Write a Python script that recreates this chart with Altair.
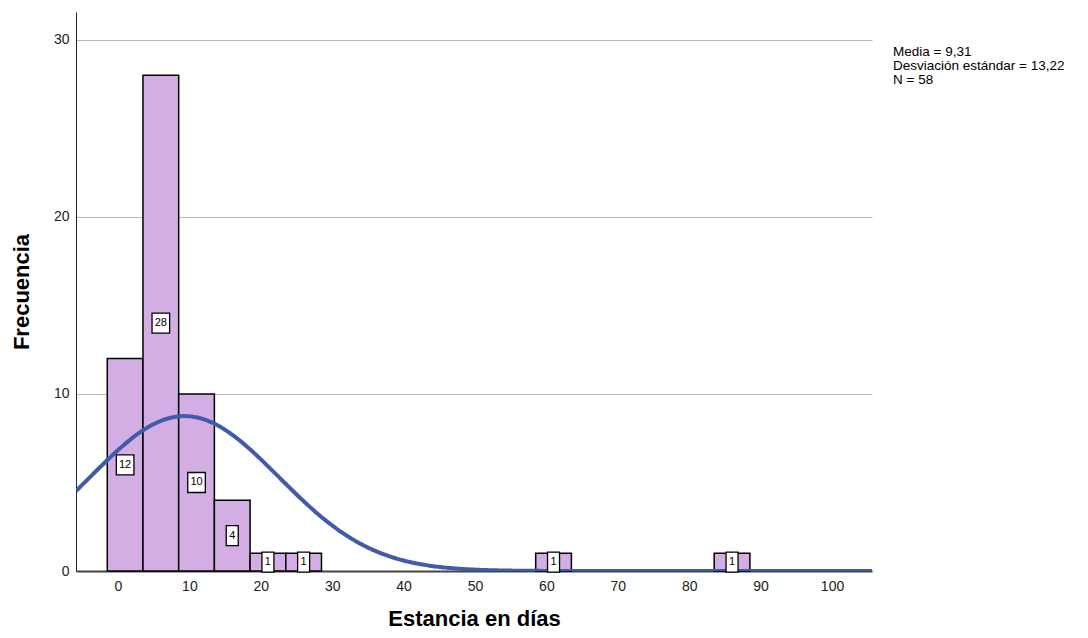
import altair as alt
import pandas as pd

# Histogram bins (days) and frequencies
bin_start = [-1.5, 3.5, 8.5, 13.5, 18.5, 23.5, 58.5, 83.5]
bin_end = [3.5, 8.5, 13.5, 18.5, 23.5, 28.5, 63.5, 88.5]
counts = [12, 28, 10, 4, 1, 1, 1, 1]

mean_val = 9.31
sd_val = 13.22
n_val = 58
bin_width = 5

stats_lines = ["Media = 9,31", "Desviación estándar = 13,22", "N = 58"]

x_domain = [-5.88, 105.6]
y_domain = [0, 31.58]
x_ticks = [0, 10, 20, 30, 40, 50, 60, 70, 80, 90, 100]
y_ticks = [0, 10, 20, 30]

FONT = "Liberation Sans"

bars_df = pd.DataFrame({
    "start": bin_start,
    "end": bin_end,
    "count": counts,
    "mid": [(a + b) / 2 for a, b in zip(bin_start, bin_end)],
    "half": [c / 2 for c in counts],
    "label": [str(c) for c in counts],
    "digits": [str(len(str(c))) for c in counts],
})

xs = alt.Scale(domain=x_domain, nice=False, zero=False)
ys = alt.Scale(domain=y_domain, nice=False)

x_axis = alt.Axis(values=x_ticks, title="Estancia en días", grid=False, ticks=False,
                  labelFont=FONT, labelFontSize=14, labelColor="#222222", labelPadding=8,
                  titleFont=FONT, titleFontSize=22, titleFontWeight="bold", titleColor="#000000",
                  titlePadding=15, domainColor="#444444", domainWidth=2)
y_axis = alt.Axis(values=y_ticks, title="Frecuencia", grid=True, gridColor="#b8b8b8", ticks=False,
                  labelFont=FONT, labelFontSize=14, labelColor="#222222", labelPadding=7,
                  titleFont=FONT, titleFontSize=22, titleFontWeight="bold", titleColor="#000000",
                  titlePadding=20, domainColor="#222222", domainWidth=1)

bars = alt.Chart(bars_df).mark_rect(fill="#D3AEE4", stroke="#000000", strokeWidth=1.5).encode(
    x=alt.X("start:Q", scale=xs, axis=x_axis),
    x2="end:Q",
    y=alt.Y("count:Q", scale=ys, axis=y_axis),
    y2=alt.datum(0),
)

curve = alt.Chart(alt.sequence(start=x_domain[0], stop=x_domain[1] + 0.25, step=0.25, as_="x")).transform_calculate(
    y=f"{n_val * bin_width} / ({sd_val} * sqrt(2 * PI)) * exp(-0.5 * pow((datum.x - {mean_val}) / {sd_val}, 2))"
).mark_line(color="#3F5BAA", strokeWidth=4, clip=True).encode(
    x=alt.X("x:Q", scale=xs),
    y=alt.Y("y:Q", scale=ys),
)

box_shapes = ["M-0.6,-1L0.6,-1L0.6,1L-0.6,1Z", "M-0.88,-1L0.88,-1L0.88,1L-0.88,1Z"]
boxes = alt.Chart(bars_df).mark_point(
    size=400, filled=True, fill="#ffffff", stroke="#000000", strokeWidth=1.3, opacity=1
).encode(
    x=alt.X("mid:Q", scale=xs),
    y=alt.Y("half:Q", scale=ys),
    shape=alt.Shape("digits:N", scale=alt.Scale(domain=["1", "2"], range=box_shapes), legend=None),
)

labels = alt.Chart(bars_df).mark_text(font=FONT, fontSize=11, color="#000000").encode(
    x=alt.X("mid:Q", scale=xs),
    y=alt.Y("half:Q", scale=ys),
    text="label:N",
)

main = alt.layer(bars, curve, boxes, labels)

stats_df = pd.DataFrame({"line": stats_lines, "i": list(range(len(stats_lines)))})
stats = alt.Chart(stats_df).mark_text(font=FONT, fontSize=13.5, align="left", baseline="alphabetic",
                                      color="#000000").encode(
    x=alt.value(817),
    y=alt.Y("i:Q", axis=None, scale=alt.Scale(domain=[0, 2], range=[44, 71.5])),
    text="line:N",
)

chart = alt.layer(main, stats).resolve_scale(y="independent").properties(
    width=796, height=559,
    padding={"left": 68, "top": 4, "right": 200, "bottom": 58},
    autosize=alt.AutoSizeParams(type="none"),
    background="#ffffff",
).configure_view(stroke=None)

chart.save("out.html", embed_options={"renderer": "svg", "actions": False})
